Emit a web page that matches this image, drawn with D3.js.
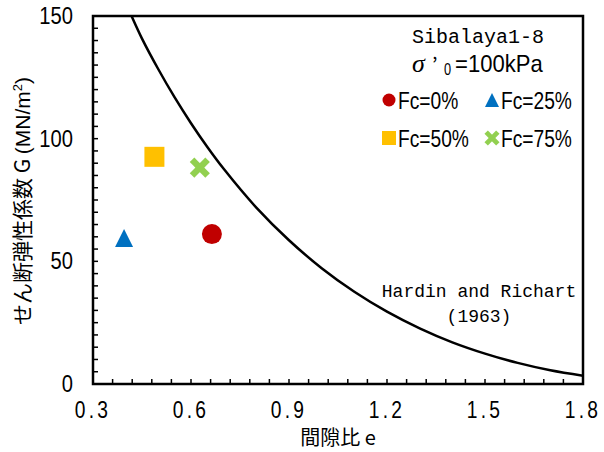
<!DOCTYPE html>
<html>
<head>
<meta charset="utf-8">
<script src="https://cdn.jsdelivr.net/npm/d3@7"></script>
<style>
  body { margin: 0; background: #fff; }
  svg { display: block; }
  .num { font-family: "Liberation Sans", Arial, sans-serif; }
  .mono { font-family: "Liberation Mono", "DejaVu Sans Mono", monospace; }
  .jp { font-family: "Noto Sans CJK JP", sans-serif; }
</style>
</head>
<body>
<div id="chart"></div>
<script>
// test data: void ratio e vs shear modulus G
var seriesNames = ['Fc=0%', 'Fc=25%', 'Fc=50%', 'Fc=75%'];
var seriesE = [0.664, 0.395, 0.488, 0.627];
var seriesG = [61.1, 59.5, 92.6, 88.2];
var seriesColors = ['#C00000', '#0070C0', '#FFC000', '#92D050'];
var seriesShapes = ['circle', 'triangle', 'square', 'cross'];

// Hardin and Richart (1963) curve
var curveE = [0.418, 0.45, 0.5, 0.55, 0.6, 0.65, 0.7, 0.8, 0.9, 1.0, 1.1, 1.2, 1.3, 1.4, 1.5, 1.6, 1.7, 1.8];
var curveG = [150, 140.8, 128.3, 116.8, 106.3, 96.6, 87.7, 71.9, 58.6, 47.2, 37.6, 29.5, 22.7, 17.0, 12.4, 8.6, 5.6, 3.4];

var xTicks = [0.3, 0.6, 0.9, 1.2, 1.5, 1.8];
var yTicks = [0, 50, 100, 150];

var W = 604, H = 452,
    mLeft = 93, mTop = 16, pw = 490, ph = 368;

var svg = d3.select('#chart').append('svg')
  .attr('width', W)
  .attr('height', H);

var x = d3.scaleLinear().domain([0.3, 1.8]).range([mLeft, mLeft + pw]);
var y = d3.scaleLinear().domain([0, 150]).range([mTop + ph, mTop]);

var g = svg.append('g');

// narrow sans text (squeezed horizontally)
function narrowText(parent, tx, ty, anchor, size, str, sx) {
  return parent.append('g')
    .attr('transform', 'translate(' + tx + ',' + ty + ') scale(' + (sx || 0.8) + ',1)')
    .append('text')
    .attr('class', 'num')
    .attr('text-anchor', anchor)
    .attr('font-size', size)
    .text(str);
}

// minor ticks (inside)
var xMinor = d3.range(0, 26).map(function(i) { return 0.3 + i * 0.06; });
var yMinor = d3.range(0, 31).map(function(i) { return i * 5; });

g.selectAll('.xminor').data(xMinor).enter().append('line')
  .attr('x1', function(d) { return x(d); })
  .attr('x2', function(d) { return x(d); })
  .attr('y1', mTop + ph)
  .attr('y2', mTop + ph - 5)
  .attr('stroke', '#000')
  .attr('stroke-width', 1.5);

g.selectAll('.yminor').data(yMinor).enter().append('line')
  .attr('x1', mLeft)
  .attr('x2', mLeft + 5)
  .attr('y1', function(d) { return y(d); })
  .attr('y2', function(d) { return y(d); })
  .attr('stroke', '#000')
  .attr('stroke-width', 1.5);

// tick labels
xTicks.forEach(function(d) {
  narrowText(g, x(d), mTop + ph + 34, 'middle', 24, d.toFixed(1))
    .attr('letter-spacing', 4);
});
yTicks.forEach(function(d) {
  narrowText(g, mLeft - 20, y(d) + 8, 'end', 24, d, 0.84);
});

// curve
svg.append('clipPath').attr('id', 'plotclip')
  .append('rect').attr('x', mLeft).attr('y', mTop).attr('width', pw).attr('height', ph);

var curvePts = curveE.map(function(e, i) { return [e, curveG[i]]; });
var line = d3.line()
  .x(function(d) { return x(d[0]); })
  .y(function(d) { return y(d[1]); })
  .curve(d3.curveCatmullRom);

g.append('path')
  .datum(curvePts)
  .attr('d', line)
  .attr('fill', 'none')
  .attr('stroke', '#000')
  .attr('stroke-width', 2.5)
  .attr('clip-path', 'url(#plotclip)');

// frame
g.append('rect')
  .attr('x', mLeft).attr('y', mTop)
  .attr('width', pw).attr('height', ph)
  .attr('fill', 'none')
  .attr('stroke', '#000')
  .attr('stroke-width', 2.5);

function drawMarker(sel, shape, color, size) {
  var s = size / 2;
  if (shape === 'circle') {
    sel.append('circle').attr('r', s).attr('fill', color);
  } else if (shape === 'square') {
    sel.append('rect').attr('x', -s).attr('y', -s)
      .attr('width', size).attr('height', size).attr('fill', color);
  } else if (shape === 'triangle') {
    sel.append('path')
      .attr('d', 'M0,' + (-s) + 'L' + s + ',' + s + 'L' + (-s) + ',' + s + 'Z')
      .attr('fill', color);
  } else {
    // thick X: two crossed bars
    var L = size * 1.1, t = size * 0.32;
    [45, -45].forEach(function(a) {
      sel.append('rect')
        .attr('x', -L / 2).attr('y', -t / 2)
        .attr('width', L).attr('height', t)
        .attr('transform', 'rotate(' + a + ')')
        .attr('fill', color);
    });
  }
}

// data points
seriesNames.forEach(function(name, i) {
  var mg = g.append('g')
    .attr('transform', 'translate(' + x(seriesE[i]) + ',' + y(seriesG[i]) + ')');
  drawMarker(mg, seriesShapes[i], seriesColors[i], seriesShapes[i] === 'triangle' ? 18 : 20);
});

// legend
g.append('text').attr('class', 'mono')
  .attr('x', 478).attr('y', 43)
  .attr('text-anchor', 'middle')
  .attr('font-size', 20)
  .text('Sibalaya1-8');

var sigG = g.append('g').attr('transform', 'translate(412,72)');
sigG.append('text')
  .attr('font-family', 'Liberation Serif')
  .attr('font-style', 'italic')
  .attr('font-size', 26)
  .text('\u03c3');
sigG.append('text').attr('class', 'jp')
  .attr('x', 20).attr('font-size', 20)
  .text('\u2019');
narrowText(sigG, 32, 3, 'start', 16, '0');
narrowText(sigG, 43, 0, 'start', 24, '=100kPa', 0.92);

var legPos = [[389, 100], [492, 100], [389, 138], [492, 138]];
var legSize = [13, 14, 14, 15];
seriesNames.forEach(function(name, i) {
  var lg = g.append('g')
    .attr('transform', 'translate(' + legPos[i][0] + ',' + legPos[i][1] + ')');
  drawMarker(lg, seriesShapes[i], seriesColors[i], legSize[i]);
  narrowText(lg, 9, 9, 'start', 24, name);
});

g.append('text').attr('class', 'mono')
  .attr('x', 479).attr('y', 297)
  .attr('text-anchor', 'middle')
  .attr('font-size', 18)
  .text('Hardin and Richart');
g.append('text').attr('class', 'mono')
  .attr('x', 479).attr('y', 322)
  .attr('text-anchor', 'middle')
  .attr('font-size', 18)
  .text('(1963)');

// axis titles
var yt = g.append('text').attr('class', 'jp')
  .attr('transform', 'translate(30,' + 201 + ') rotate(-90)')
  .attr('text-anchor', 'middle')
  .attr('font-size', 21);
yt.append('tspan').text('せん断弾性係数 G ');
yt.append('tspan').attr('class', 'num').text('(MN/m');
yt.append('tspan').attr('class', 'num').attr('font-size', 13).attr('dy', -8).text('2');
yt.append('tspan').attr('class', 'num').attr('dy', 8).text(')');

g.append('text').attr('class', 'jp')
  .attr('x', 338).attr('y', 445)
  .attr('text-anchor', 'middle')
  .attr('font-size', 20)
  .text('間隙比 e');
</script>
</body>
</html>
